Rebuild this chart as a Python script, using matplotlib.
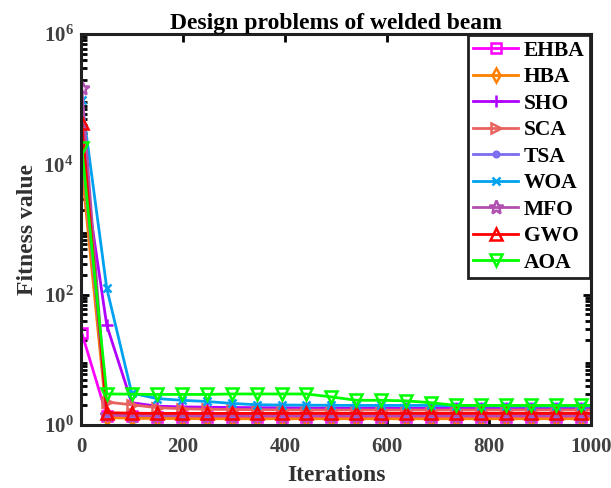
import numpy as np
import matplotlib
matplotlib.use("Agg")
import matplotlib.pyplot as plt
from matplotlib.ticker import LogLocator, NullFormatter

plt.rcParams['font.family'] = ['Liberation Serif', 'DejaVu Serif']
plt.rcParams['font.weight'] = 'bold'
plt.rcParams['mathtext.fontset'] = 'custom'
plt.rcParams['mathtext.rm'] = 'Liberation Serif:bold'
plt.rcParams['mathtext.it'] = 'Liberation Serif:italic:bold'
plt.rcParams['mathtext.bf'] = 'Liberation Serif:bold'

# iterations where the curves are sampled (markers at every point except the last)
iters = [1, 50, 99, 148, 197, 246, 295, 344, 393, 442, 491, 540, 589,
         638, 687, 736, 785, 834, 883, 932, 981, 1000]

ehba = [26, 1.4, 1.36, 1.35, 1.35, 1.34, 1.34, 1.34, 1.34, 1.34, 1.34,
        1.34, 1.34, 1.34, 1.34, 1.34, 1.34, 1.34, 1.34, 1.34, 1.34, 1.34]
hba = [8700, 1.3, 1.27, 1.26, 1.26, 1.25, 1.25, 1.25, 1.25, 1.25, 1.25,
       1.25, 1.25, 1.25, 1.25, 1.25, 1.25, 1.25, 1.25, 1.25, 1.25, 1.25]
sho = [14000, 34, 2.2, 1.95, 1.9, 1.88, 1.86, 1.85, 1.84, 1.83, 1.82,
       1.82, 1.81, 1.81, 1.8, 1.8, 1.8, 1.8, 1.8, 1.8, 1.8, 1.8]
sca = [12000, 2.25, 2.05, 1.85, 1.78, 1.75, 1.73, 1.72, 1.71, 1.7, 1.7,
       1.7, 1.7, 1.7, 1.7, 1.7, 1.7, 1.7, 1.7, 1.7, 1.7, 1.7]
tsa = [27000, 1.5, 1.46, 1.45, 1.45, 1.45, 1.45, 1.45, 1.45, 1.45, 1.45,
       1.45, 1.45, 1.45, 1.45, 1.45, 1.45, 1.45, 1.45, 1.45, 1.45, 1.45]
woa = [96000, 126, 3.1, 2.55, 2.4, 2.3, 2.15, 2.05, 2.03, 2.02, 2.01,
       2.0, 2.0, 2.0, 2.0, 1.98, 1.97, 1.96, 1.95, 1.95, 1.95, 1.95]
mfo = [150000, 1.45, 1.4, 1.4, 1.4, 1.4, 1.4, 1.4, 1.4, 1.4, 1.4,
       1.4, 1.4, 1.4, 1.4, 1.4, 1.4, 1.4, 1.4, 1.4, 1.4, 1.4]
gwo = [44000, 1.55, 1.52, 1.51, 1.51, 1.51, 1.51, 1.51, 1.51, 1.51, 1.51,
       1.51, 1.51, 1.51, 1.51, 1.51, 1.51, 1.51, 1.51, 1.51, 1.51, 1.51]
aoa = [18000, 3.0, 2.98, 2.95, 2.95, 2.95, 3.0, 3.0, 3.0, 3.0, 2.7,
       2.4, 2.4, 2.35, 2.2, 2.0, 2.0, 2.0, 2.0, 2.0, 2.0, 2.0]

series = [
    ("EHBA", ehba, "#FF00FF", "s", 7),
    ("HBA", hba, "#FF8000", "d", 7),
    ("SHO", sho, "#B000FF", "+", 8),
    ("SCA", sca, "#E8635F", ">", 7),
    ("TSA", tsa, "#7B6CF0", ".", 8),
    ("WOA", woa, "#00A2F0", "x", 6),
    ("MFO", mfo, "#B050B0", "*", 10),
    ("GWO", gwo, "#FF0000", "^", 8),
    ("AOA", aoa, "#00FF00", "v", 8),
]

fig = plt.figure(figsize=(6.11, 4.88), dpi=100)
ax = fig.add_axes([0.133, 0.129, 0.834, 0.801])

for name, vals, color, marker, ms in series:
    ax.plot(iters, vals, color=color, lw=2, marker=marker, ms=ms,
            mfc="none", mew=1.8, markevery=list(range(len(iters) - 1)),
            label=name)

ax.set_yscale("log")
ax.set_xlim(0, 1000)
ax.set_ylim(1, 1e6)
ax.set_yticks([1, 1e2, 1e4, 1e6])
ax.yaxis.set_minor_locator(LogLocator(base=10, subs=np.arange(2, 10), numticks=20))
ax.yaxis.set_minor_formatter(NullFormatter())
ax.set_xticks([0, 200, 400, 600, 800, 1000])

ax.tick_params(which="both", direction="in", top=True, right=True,
               labelsize=15, labelcolor="#404040", width=2)
ax.tick_params(which="major", length=6)
ax.tick_params(which="minor", length=4)
ax.tick_params(axis="x", pad=8.5)
ax.tick_params(axis="y", pad=5.5)
for sp in ax.spines.values():
    sp.set_linewidth(2.2)
    sp.set_color("#202020")

ax.set_title("Design problems of welded beam", fontsize=17, fontweight="bold", pad=2)
ax.set_xlabel("Iterations", fontsize=17, fontweight="bold", color="#303030", labelpad=6)
ax.set_ylabel("Fitness value", fontsize=17, fontweight="bold", color="#303030", labelpad=4)

leg = ax.legend(loc="upper right", fontsize=15.5, frameon=True, fancybox=False,
                edgecolor="#202020", framealpha=1, borderaxespad=0.05,
                handlelength=2.1, labelspacing=0.3, borderpad=0.25,
                handletextpad=0.25)
leg.get_frame().set_linewidth(2)

fig.savefig("out.png", dpi=100)
